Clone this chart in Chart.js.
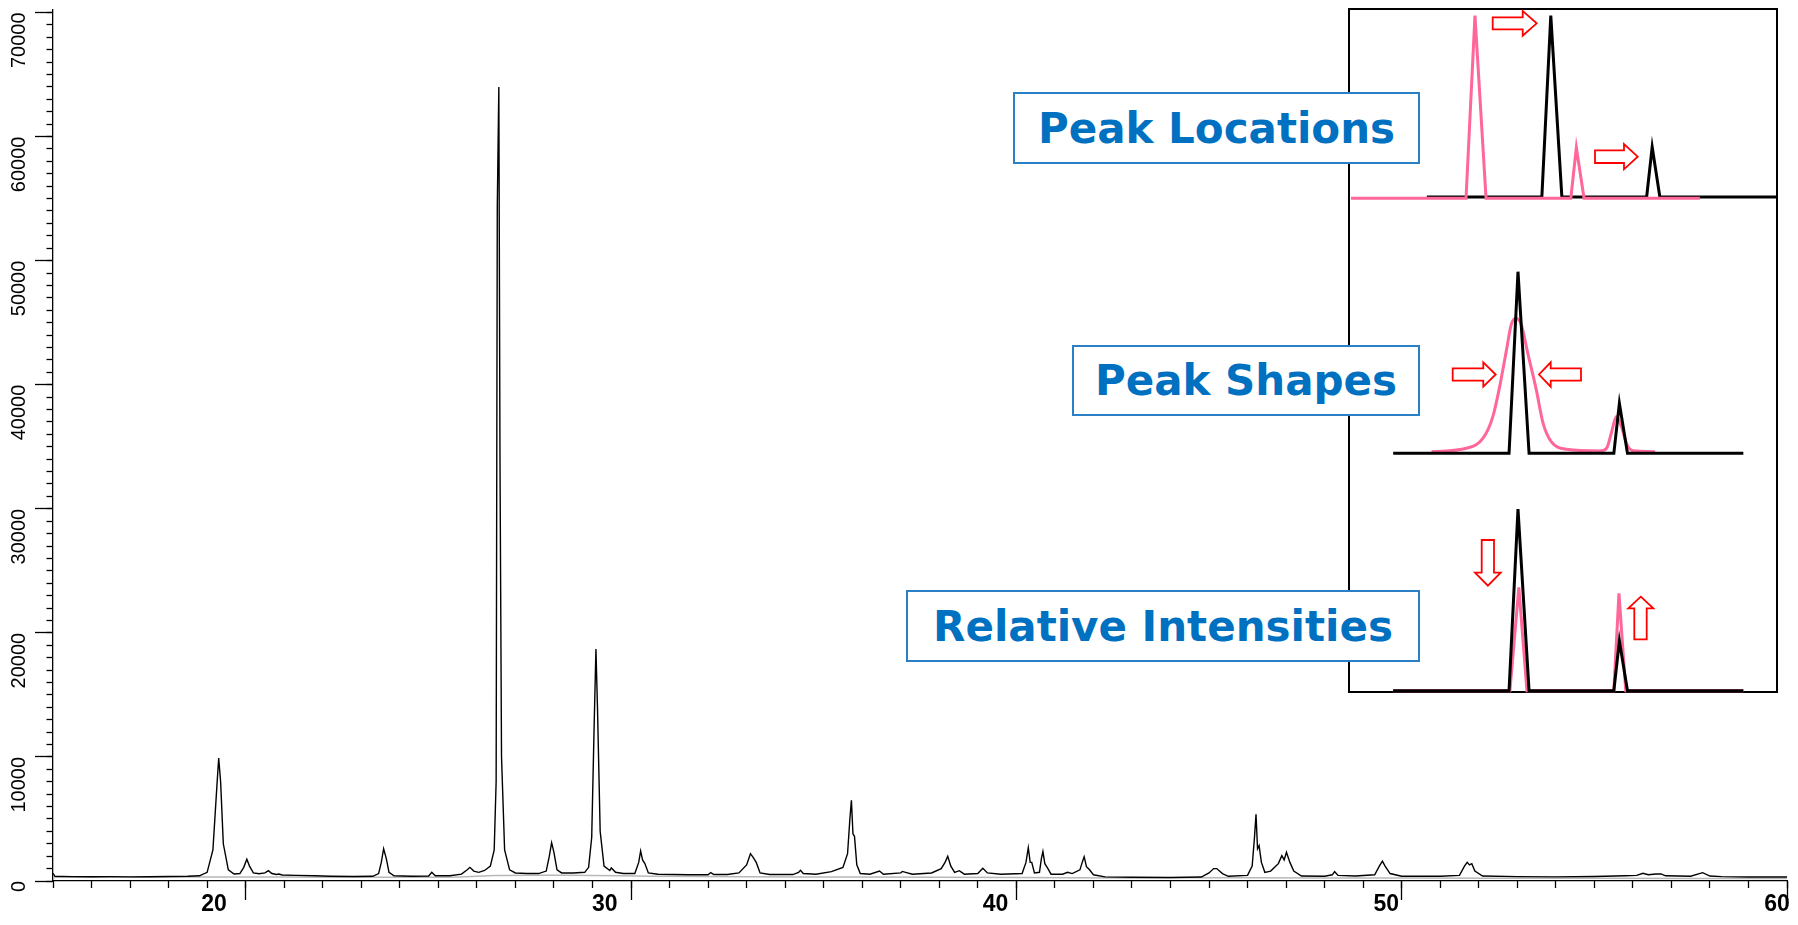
<!DOCTYPE html>
<html>
<head>
<meta charset="utf-8">
<script src="https://cdn.jsdelivr.net/npm/chart.js@4.4.0/dist/chart.umd.min.js"></script>
<style>
  body { margin: 0; background: #fff; }
  #wrap { position: relative; width: 1798px; height: 925px; overflow: hidden; }
  #xrd { position: absolute; left: 0; top: 0; }
  #inset { position: absolute; left: 1348px; top: 8px; width: 430px; height: 685px;
           box-sizing: border-box; border: 2px solid #000; background: #fff; }
  .panel { position: absolute; left: 1351px; }
  #arrows { position: absolute; left: 0; top: 0; }
  .tag { position: absolute; box-sizing: border-box; border: 2px solid #2a7fc6; background: #fff;
         color: #0070c0; font: bold 42px "DejaVu Sans", Verdana, sans-serif;
         display: flex; align-items: center; justify-content: center; white-space: nowrap; }
</style>
</head>
<body>
<div id="wrap">
  <canvas id="xrd" width="1798" height="925"></canvas>
  <div id="inset"></div>
  <canvas id="panel1" class="panel" width="426" height="195" style="top:10px"></canvas>
  <canvas id="panel2" class="panel" width="426" height="260" style="top:210px"></canvas>
  <canvas id="panel3" class="panel" width="426" height="213" style="top:480px"></canvas>
  <svg id="arrows" width="1798" height="925">
    <g fill="#fff" stroke="#ff0000" stroke-width="1.8">
      <polygon points="1492.7,17.3 1522.7,17.3 1522.7,11 1536.7,23.3 1522.7,35.7 1522.7,29.3 1492.7,29.3"/>
      <polygon points="1595,150.3 1624,150.3 1624,144 1637.7,156.7 1624,169.3 1624,163 1595,163"/>
      <polygon points="1452.7,368.3 1483.3,368.3 1483.3,362.3 1495.7,374.5 1483.3,386.7 1483.3,380.7 1452.7,380.7"/>
      <polygon points="1581,368.3 1550.7,368.3 1550.7,362.3 1539,374.5 1550.7,386.7 1550.7,380.7 1581,380.7"/>
      <polygon points="1481.7,540 1494,540 1494,572.7 1500.7,572.7 1487.9,585.7 1475,572.7 1481.7,572.7"/>
      <polygon points="1640.8,596.7 1653.3,608.3 1646.7,608.3 1646.7,639.3 1634.3,639.3 1634.3,608.3 1628.3,608.3"/>
    </g>
  </svg>
  <div class="tag" style="left:1013px;top:92px;width:407px;height:72px">Peak Locations</div>
  <div class="tag" style="left:1072px;top:345px;width:348px;height:71px">Peak Shapes</div>
  <div class="tag" style="left:906px;top:590px;width:514px;height:72px">Relative Intensities</div>
</div>
<script>
// measured pattern, 2-theta (deg) and intensity (counts)
const twoTheta = [
  15.00, 15.05, 15.5, 16.0, 16.5, 17.0, 17.5, 18.0, 18.5, 18.8,
  19.0, 19.15, 19.25, 19.30, 19.35, 19.42, 19.55, 19.7, 19.85, 19.95,
  20.03, 20.10, 20.2, 20.35, 20.5, 20.59, 20.68, 20.80, 20.86, 20.95,
  21.3, 21.8, 22.2, 22.8, 23.3, 23.45, 23.52, 23.58, 23.65, 23.72,
  23.85, 24.3, 24.75, 24.83, 24.92, 25.3, 25.6, 25.75, 25.82, 25.92,
  26.05, 26.2, 26.35, 26.45, 26.50, 26.53, 26.57, 26.60, 26.64, 26.72,
  26.85, 27.0, 27.3, 27.6, 27.8, 27.88, 27.94, 28.0, 28.08, 28.2,
  28.5, 28.8, 28.9, 28.98, 29.04, 29.09, 29.13, 29.2, 29.3, 29.45,
  29.49, 29.6, 29.8, 30.1, 30.2, 30.25, 30.3, 30.36, 30.45, 30.7,
  31.5, 32.0, 32.07, 32.15, 32.5, 32.8, 33.0, 33.1, 33.17, 33.25,
  33.35, 33.6, 34.2, 34.35, 34.40, 34.47, 34.8, 35.2, 35.5, 35.62,
  35.68, 35.72, 35.76, 35.80, 35.86, 35.95, 36.2, 36.45, 36.55, 37.0,
  37.04, 37.3, 37.8, 38.05, 38.15, 38.22, 38.3, 38.4, 38.52, 38.65,
  39.0, 39.13, 39.25, 39.6, 40.15, 40.25, 40.31, 40.36, 40.40, 40.47,
  40.6, 40.65, 40.69, 40.74, 40.82, 40.9, 41.2, 41.33, 41.45, 41.65,
  41.72, 41.76, 41.82, 41.9, 42.0, 42.3, 43.0, 44.0, 44.8, 45.0,
  45.12, 45.2, 45.35, 45.5, 46.0, 46.12, 46.18, 46.22, 46.26, 46.30,
  46.36, 46.45, 46.6, 46.8, 46.89, 46.95, 47.01, 47.1, 47.2, 47.4,
  48.0, 48.2, 48.26, 48.35, 48.8, 49.3, 49.42, 49.5, 49.57, 49.7,
  50.0, 51.0, 51.5, 51.63, 51.7, 51.76, 51.82, 51.9, 52.1, 53.0,
  54.0, 55.0, 55.8, 56.1, 56.26, 56.4, 56.6, 56.73, 56.85, 57.5,
  57.81, 58.0, 58.3, 59.0, 60.0
];
const counts = [
  620, 380, 350, 340, 350, 330, 340, 360, 380, 420,
  700, 2500, 7500, 9900, 8000, 3000, 900, 560, 600, 1100,
  1750, 1200, 650, 580, 650, 830, 600, 520, 560, 480,
  450, 420, 380, 360, 380, 600, 1500, 2600, 1800, 700,
  420, 380, 400, 700, 420, 420, 550, 900, 1100, 800,
  700, 850, 1200, 2500, 8000, 54400, 64000, 34000, 10000, 2500,
  900, 650, 600, 600, 800, 2000, 3090, 2300, 900, 650,
  650, 700, 1100, 3500, 12000, 18700, 14000, 4000, 1200, 850,
  1050, 700, 600, 600, 1500, 2420, 1700, 1400, 650, 550,
  500, 500, 680, 520, 520, 650, 1300, 2200, 1900, 1500,
  650, 520, 520, 700, 860, 600, 550, 750, 1100, 2200,
  5000, 6500, 3800, 3600, 1300, 600, 550, 800, 550, 650,
  770, 550, 650, 1000, 1500, 2000, 1200, 700, 830, 550,
  600, 1020, 650, 550, 600, 1500, 2690, 1500, 1500, 650,
  700, 1800, 2370, 1400, 1000, 550, 550, 700, 600, 900,
  1600, 1960, 1150, 900, 500, 330, 300, 280, 320, 650,
  1000, 1000, 600, 380, 450, 1200, 3500, 5370, 2600, 2850,
  1500, 700, 800, 1400, 2040, 1700, 2310, 1500, 800, 400,
  380, 500, 750, 450, 400, 500, 1200, 1600, 1200, 600,
  380, 380, 450, 1200, 1500, 1300, 1400, 800, 400, 350,
  330, 360, 420, 450, 620, 500, 560, 570, 420, 380,
  670, 400, 350, 320, 320
];
// fitted background curve (grey)
const bgTheta  = [15, 18, 20, 22, 24, 25.5, 26.5, 27.5, 29, 30.5, 33, 36, 40, 43, 46, 50, 55, 60];
const bgCounts = [300, 320, 330, 310, 300, 330, 450, 470, 450, 380, 340, 320, 290, 250, 260, 240, 220, 200];

const xTickLabels = [20, 30, 40, 50, 60];
const yTickLabels = [0, 10000, 20000, 30000, 40000, 50000, 60000, 70000];

// inset sketches: x in arbitrary position units, y in relative intensity
const locPinkX  = [0, 27.0, 29.1, 31.7, 51.6, 52.9, 54.7, 81.9];
const locPinkY  = [-0.7, -0.7, 100, -0.7, -0.7, 27.2, -0.7, -0.7];
const locBlackX = [17.8, 44.8, 46.9, 49.5, 69.4, 70.7, 72.5, 99.9];
const locBlackY = [0, 0, 100, 0, 0, 27.6, 0, 0];

const shapeBlackX = [9.9, 37.1, 39.2, 41.8, 61.7, 63.0, 64.9, 92.1];
const shapeBlackY = [0, 0, 100, 0, 0, 27.5, 0, 0];
const shapePinkX = [18.9, 27.1, 31.0, 33.3, 34.9, 36.5, 37.6, 38.7, 40.0, 41.5, 43.5, 45.1, 47.0, 50.6,
                    58.4, 60.0, 61.1, 62.3, 63.5, 64.8, 66.2, 71.4];
const shapePinkY = [0.9, 2.8, 8.3, 20.2, 36.7, 56.9, 70.7, 74.3, 70.7, 55.1, 34.9, 16.5, 6.4, 2.2,
                    1.3, 2.8, 11.0, 20.2, 14.6, 4.6, 1.4, 0.9];

const intBlackX = [9.9, 37.1, 39.2, 41.8, 61.7, 63.0, 64.9, 92.1];
const intBlackY = [0, 0, 100, 0, 0, 27.5, 0, 0];
const intPinkX  = [9.9, 37.3, 39.4, 41.3, 61.7, 62.9, 64.5, 92.1];
const intPinkY  = [0, 0, 56.9, 0, 0, 53.6, 0, 0];

const pink = '#ff6699';
const pts = (xs, ys) => xs.map((x, i) => ({ x: x, y: ys[i] }));
const axisFont = (size, weight) => ({ family: '"Liberation Sans", Arial, sans-serif', size: size, weight: weight });

new Chart(document.getElementById('xrd'), {
  type: 'line',
  data: {
    datasets: [
      { data: pts(twoTheta, counts), xAxisID: 'x', yAxisID: 'y',
        borderColor: '#000', borderWidth: 1.4, pointRadius: 0, tension: 0 },
      { data: pts(bgTheta, bgCounts), xAxisID: 'x', yAxisID: 'y',
        borderColor: '#b8b8b8', borderWidth: 1.5, pointRadius: 0, tension: 0.3 }
    ]
  },
  options: {
    responsive: false,
    animation: false,
    events: [],
    layout: { padding: { top: 10, right: 11, bottom: 0, left: 0 } },
    plugins: { legend: { display: false }, tooltip: { enabled: false } },
    scales: {
      // minor ticks every degree
      xMinor: {
        type: 'linear', position: 'bottom', min: 15, max: 60, weight: 0,
        afterBuildTicks: (s) => {
          const ticks = [];
          for (let v = 15; v <= 60; v += 1) ticks.push({ value: v });
          s.ticks = ticks;
        },
        afterFit: (s) => { s.height = 0; },
        grid: { drawOnChartArea: false, tickLength: 7, tickColor: '#000', tickWidth: 1.3 },
        border: { display: false },
        ticks: { display: false }
      },
      // major tick marks and the axis line
      x: {
        type: 'linear', position: 'bottom', min: 15, max: 60, weight: 1,
        afterBuildTicks: (s) => { s.ticks = xTickLabels.map(v => ({ value: v })); },
        afterFit: (s) => { s.height = 0; s.paddingLeft = 0; s.paddingRight = 0; },
        grid: { drawOnChartArea: false, tickLength: 19, tickColor: '#000', tickWidth: 1.3 },
        border: { color: '#000', width: 1.3 },
        ticks: { display: false }
      },
      // the printed labels sit slightly left of their marks in the original
      xText: {
        type: 'linear', position: 'bottom', min: 15.88, max: 60.256, weight: 2,
        afterBuildTicks: (s) => { s.ticks = xTickLabels.map(v => ({ value: v })); },
        afterFit: (s) => { s.height = 44; s.paddingLeft = 0; s.paddingRight = 0; },
        grid: { display: false, drawTicks: false },
        border: { display: false },
        ticks: { padding: 10, minRotation: 0, maxRotation: 0, color: '#000', font: axisFont(23, 'bold'),
                 callback: (v) => String(v) }
      },
      y: {
        type: 'linear', position: 'left', min: 0, max: 70200, weight: 1,
        afterBuildTicks: (s) => { s.ticks = yTickLabels.map(v => ({ value: v })); },
        afterFit: (s) => { s.width = 53; s.paddingTop = 0; s.paddingBottom = 0; },
        grid: { drawOnChartArea: false, tickLength: 18, tickColor: '#000', tickWidth: 1.3 },
        border: { color: '#000', width: 1.3 },
        ticks: { padding: 16, minRotation: 90, maxRotation: 90, color: '#000', font: axisFont(20, 'normal'),
                 callback: (v) => String(v) }
      },
      yMinor: {
        type: 'linear', position: 'left', min: 0, max: 70200, weight: 0,
        afterBuildTicks: (s) => {
          const ticks = [];
          for (let v = 0; v <= 70000; v += 1000) ticks.push({ value: v });
          s.ticks = ticks;
        },
        afterFit: (s) => { s.width = 0; },
        grid: { drawOnChartArea: false, tickLength: 6.5, tickColor: '#000', tickWidth: 1.3 },
        border: { display: false },
        ticks: { display: false }
      }
    }
  }
});

// small sketch charts inside the inset box
function sketch(id, sets, yMin, yMax) {
  new Chart(document.getElementById(id), {
    type: 'line',
    data: {
      datasets: sets.map(s => ({
        data: pts(s.x, s.y), borderColor: s.color, borderWidth: 3, pointRadius: 0,
        tension: s.smooth ? 0.4 : 0, cubicInterpolationMode: s.smooth ? 'monotone' : 'default',
        clip: false
      }))
    },
    options: {
      responsive: false,
      animation: false,
      events: [],
      layout: { padding: 0 },
      plugins: { legend: { display: false }, tooltip: { enabled: false } },
      scales: {
        x: { type: 'linear', display: false, min: 0, max: 100 },
        y: { type: 'linear', display: false, min: yMin, max: yMax }
      }
    }
  });
}

// first dataset is drawn on top
sketch('panel1', [
  { x: locPinkX, y: locPinkY, color: pink },
  { x: locBlackX, y: locBlackY, color: '#000' }
], -4.41, 103.14);

sketch('panel2', [
  { x: shapeBlackX, y: shapeBlackY, color: '#000' },
  { x: shapePinkX, y: shapePinkY, color: pink, smooth: true }
], -9.20, 133.98);

sketch('panel3', [
  { x: intBlackX, y: intBlackY, color: '#000' },
  { x: intPinkX, y: intPinkY, color: pink }
], -1.27, 115.96);
</script>
</body>
</html>
